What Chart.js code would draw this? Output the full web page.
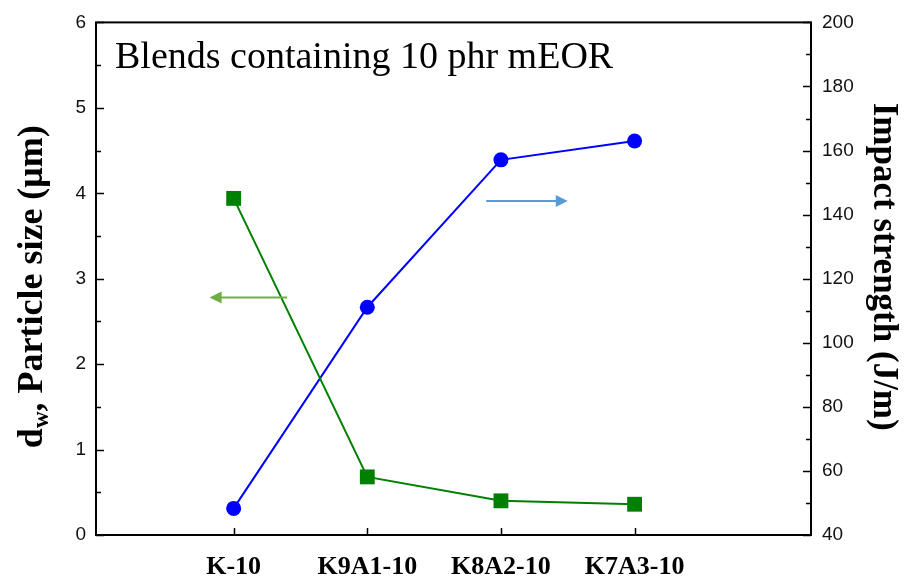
<!DOCTYPE html>
<html>
<head>
<meta charset="utf-8">
<title>Blends containing 10 phr mEOR</title>
<script src="https://cdn.jsdelivr.net/npm/chart.js@4/dist/chart.umd.min.js"></script>
<style>
    body { margin: 0; background: #fff; }
    #wrap { width: 914px; height: 582px; }
</style>
</head>
<body>
<div id="wrap"><canvas id="chart1" width="914" height="582"></canvas></div>
<script>
// Blend samples on the x axis
const categories = ["K-10", "K9A1-10", "K8A2-10", "K7A3-10"];

// dw particle size (um) - left axis
const particleSize = [3.94, 0.68, 0.40, 0.36];

// Impact strength (J/m) - right axis
const impactStrength = [48.3, 111.1, 157.1, 163.0];

// Axis ranges / ticks
const leftTicks = [0, 1, 2, 3, 4, 5, 6];
const rightTicks = [40, 60, 80, 100, 120, 140, 160, 180, 200];

// Arrows pointing to the axis each curve belongs to (in x / left-axis units)
const arrowToLeft = { x1: 1.40, x2: 0.82, y: 2.78, color: "#70AD47" };
const arrowToRight = { x1: 2.89, x2: 3.50, y: 3.91, color: "#5B9BD5" };

const serif = "'Liberation Serif', 'Times New Roman', serif";
const sans = "'Liberation Sans', Arial, sans-serif";

function toPoints(values) {
    return values.map((v, i) => ({ x: i + 1, y: v }));
}

function drawArrow(ctx, xs, ys, a) {
    const x1 = xs.getPixelForValue(a.x1);
    const x2 = xs.getPixelForValue(a.x2);
    const y = ys.getPixelForValue(a.y);
    const dir = x2 > x1 ? 1 : -1;
    ctx.save();
    ctx.strokeStyle = a.color;
    ctx.fillStyle = a.color;
    ctx.lineWidth = 2;
    ctx.beginPath();
    ctx.moveTo(x1, y);
    ctx.lineTo(x2 - dir * 10, y);
    ctx.stroke();
    ctx.beginPath();
    ctx.moveTo(x2, y);
    ctx.lineTo(x2 - dir * 12, y - 6);
    ctx.lineTo(x2 - dir * 12, y + 6);
    ctx.closePath();
    ctx.fill();
    ctx.restore();
}

// frame, inward ticks, annotation text and arrows
const decorations = {
    id: "decorations",
    afterDatasetsDraw(chart) {
        const ctx = chart.ctx;
        const area = chart.chartArea;
        const xs = chart.scales.x;
        const yl = chart.scales.yLeft;
        const yr = chart.scales.yRight;

        drawArrow(ctx, xs, yl, arrowToLeft);
        drawArrow(ctx, xs, yl, arrowToRight);

        ctx.save();
        ctx.strokeStyle = "#000";
        ctx.lineWidth = 2;
        ctx.strokeRect(area.left, area.top, area.right - area.left, area.bottom - area.top);

        ctx.beginPath();
        // left axis ticks
        for (let v = 0; v <= 6; v += 0.5) {
            const y = Math.round(yl.getPixelForValue(v)) + 0.5;
            const len = Number.isInteger(v) ? 8 : 5;
            ctx.moveTo(area.left, y);
            ctx.lineTo(area.left + len, y);
        }
        // right axis ticks
        for (let v = 40; v <= 200; v += 10) {
            const y = Math.round(yr.getPixelForValue(v)) + 0.5;
            const len = v % 20 === 0 ? 8 : 5;
            ctx.moveTo(area.right, y);
            ctx.lineTo(area.right - len, y);
        }
        // bottom ticks
        categories.forEach((c, i) => {
            const x = Math.round(xs.getPixelForValue(i + 1)) + 0.5;
            ctx.moveTo(x, area.bottom);
            ctx.lineTo(x, area.bottom - 7);
        });
        ctx.lineWidth = 1.5;
        ctx.stroke();

        // text inside the plot
        ctx.fillStyle = "#000";
        ctx.font = "38px " + serif;
        ctx.textAlign = "left";
        ctx.textBaseline = "alphabetic";
        ctx.fillText("Blends containing 10 phr mEOR", area.left + 19, area.top + 46);

        // left axis title with subscript w
        const cy = (area.top + area.bottom) / 2 + 8;
        ctx.save();
        ctx.translate(42, cy);
        ctx.rotate(-Math.PI / 2);
        const big = "bold 36px " + serif;
        const small = "bold 23px " + serif;
        const rest = ", Particle size (\u03bcm)";
        ctx.font = big;
        const wD = ctx.measureText("d").width;
        const wRest = ctx.measureText(rest).width;
        ctx.font = small;
        const wW = ctx.measureText("w").width;
        let x = -(wD + wW + wRest) / 2;
        ctx.font = big;
        ctx.fillText("d", x, 0);
        x += wD;
        ctx.font = small;
        ctx.fillText("w", x, 6);
        x += wW;
        ctx.font = big;
        ctx.fillText(rest, x, 0);
        ctx.restore();

        // right axis title
        ctx.save();
        ctx.translate(874, (area.top + area.bottom) / 2 - 12);
        ctx.rotate(Math.PI / 2);
        ctx.font = "bold 35px " + serif;
        ctx.textAlign = "center";
        ctx.fillText("Impact strength (J/m)", 0, 0);
        ctx.restore();

        ctx.restore();
    }
};

function createChart() {
    const ctx = document.getElementById("chart1").getContext("2d");

    new Chart(ctx, {
        type: "line",
        data: {
            datasets: [
                {
                    label: "Particle size",
                    data: toPoints(particleSize),
                    yAxisID: "yLeft",
                    borderColor: "#008000",
                    backgroundColor: "#008000",
                    borderWidth: 2,
                    pointStyle: "rect",
                    pointRadius: 10.5,
                    pointHoverRadius: 10.5,
                    pointBorderWidth: 0,
                    tension: 0,
                },
                {
                    label: "Impact strength",
                    data: toPoints(impactStrength),
                    yAxisID: "yRight",
                    borderColor: "#0000FF",
                    backgroundColor: "#0000FF",
                    borderWidth: 2,
                    pointStyle: "circle",
                    pointRadius: 7.5,
                    pointHoverRadius: 7.5,
                    pointBorderWidth: 0,
                    tension: 0,
                },
            ],
        },
        options: {
            responsive: false,
            animation: false,
            clip: false,
            layout: { padding: { top: 19, left: 0, right: 0, bottom: 0 } },
            plugins: {
                legend: { display: false },
                tooltip: { enabled: false },
            },
            scales: {
                x: {
                    type: "linear",
                    position: "bottom",
                    min: -0.03,
                    max: 5.32,
                    grid: { display: false, drawTicks: false },
                    border: { display: false },
                    afterBuildTicks: (s) => { s.ticks = categories.map((c, i) => ({ value: i + 1 })); },
                    afterFit: (s) => { s.height = 47; },
                    ticks: {
                        autoSkip: false,
                        maxRotation: 0,
                        padding: 17,
                        color: "#000",
                        font: { family: serif, size: 26, weight: "bold" },
                        callback: (v) => categories[v - 1] || "",
                    },
                },
                yLeft: {
                    type: "linear",
                    position: "left",
                    min: leftTicks[0],
                    max: leftTicks[leftTicks.length - 1],
                    grid: { display: false, drawTicks: false },
                    border: { display: false },
                    afterFit: (s) => { s.width = 96; },
                    ticks: {
                        stepSize: 1,
                        padding: 10,
                        color: "#111",
                        font: { family: sans, size: 19 },
                    },
                },
                yRight: {
                    type: "linear",
                    position: "right",
                    min: rightTicks[0],
                    max: rightTicks[rightTicks.length - 1],
                    grid: { display: false, drawTicks: false },
                    border: { display: false },
                    afterFit: (s) => { s.width = 103; },
                    ticks: {
                        stepSize: 20,
                        padding: 11,
                        color: "#111",
                        font: { family: sans, size: 19 },
                    },
                },
            },
        },
        plugins: [decorations],
    });
}

document.addEventListener("DOMContentLoaded", createChart);
</script>
</body>
</html>
